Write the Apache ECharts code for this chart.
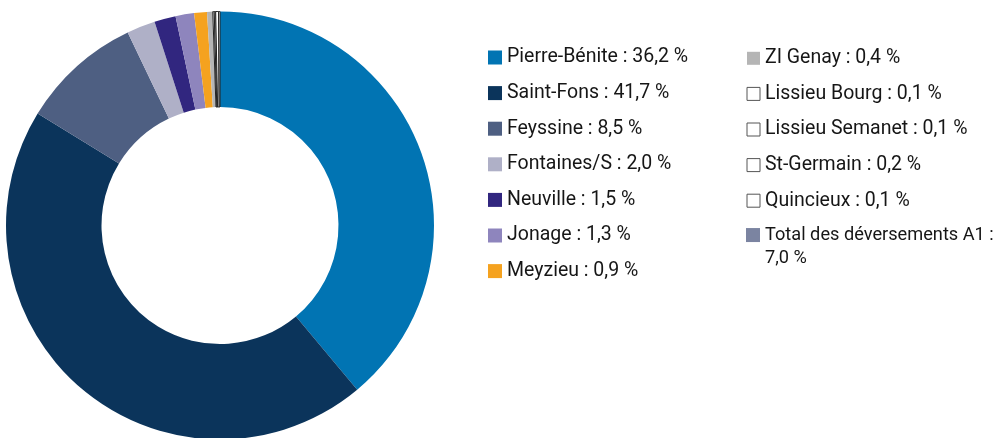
<!DOCTYPE html>
<html><head><meta charset="utf-8">
<script src="https://cdn.jsdelivr.net/npm/echarts@6/dist/echarts.min.js"></script>
<style>html,body{margin:0;padding:0;background:#fff}#c{width:993px;height:438px}</style>
</head><body><div id="c"></div>
<script>
const names = ['Pierre-Bénite','Saint-Fons','Feyssine','Fontaines/S','Neuville','Jonage','Meyzieu',
  'ZI Genay','Lissieu Bourg','Lissieu Semanet','St-Germain','Quincieux','Total des déversements A1'];
const pct = [36.2, 41.7, 8.5, 2.0, 1.5, 1.3, 0.9, 0.4, 0.1, 0.1, 0.2, 0.1, 7.0];
const colors = ['#0174B3','#0B345B','#4E5F82','#AFB0C7','#31267F','#8E85BD','#F5A21F',
  '#B5B5B5','#FFFFFF','#FFFFFF','#FFFFFF','#FFFFFF','#7B84A1'];
const inPie = [true,true,true,true,true,true,true,true,true,true,true,true,false];

const isWhite = i => colors[i] === '#FFFFFF';
const fmt = v => v.toFixed(1).replace('.', ',') + ' %';
const data = names.map((n,i) => ({
  name: n,
  value: inPie[i] ? pct[i] : 0,
  itemStyle: isWhite(i)
    ? {color: colors[i], borderColor: '#222', borderWidth: 1}
    : {color: colors[i], borderColor: colors[i], borderWidth: 0}
}));
const legendItems = names.map((n,i) => isWhite(i)
  ? {name: n, itemStyle: {color: '#fff', borderColor: '#555', borderWidth: 1}}
  : {name: n});
const col1 = legendItems.slice(0,7), col2 = legendItems.slice(7,12), col3 = legendItems.slice(12);
const font = 'Roboto, sans-serif';
const legendBase = {
  orient: 'vertical', padding: 0, itemGap: 0, itemWidth: 14, itemHeight: 14, icon: 'rect',
  selectedMode: false,
  textStyle: {fontFamily: font, fontSize: 19.5, color: '#161616', lineHeight: 35.6}
};
const chart = echarts.init(document.getElementById('c'), null, {renderer: 'canvas'});
chart.setOption({
  animation: false,
  legend: [
    Object.assign({}, legendBase, {left: 488, top: 39.7, data: col1,
      formatter: n => n + ' : ' + fmt(pct[names.indexOf(n)])}),
    Object.assign({}, legendBase, {left: 746.5, top: 40.5, data: col2, itemWidth: 13, itemHeight: 13,
      formatter: n => n + ' : ' + fmt(pct[names.indexOf(n)])}),
    Object.assign({}, legendBase, {left: 746, top: 199.8, data: col3,
      textStyle: {fontFamily: font, fontSize: 18.2, color: '#161616', lineHeight: 23.5},
      formatter: n => '\n' + n + ' :\n' + fmt(pct[names.indexOf(n)])})
  ],
  series: [{
    type: 'pie', center: [220, 225.5], radius: [118.5, 214], startAngle: 90, clockwise: true,
    avoidLabelOverlap: false, stillShowZeroSum: true, silent: true,
    label: {show: false}, labelLine: {show: false},
    data: data
  }]
});
</script></body></html>
